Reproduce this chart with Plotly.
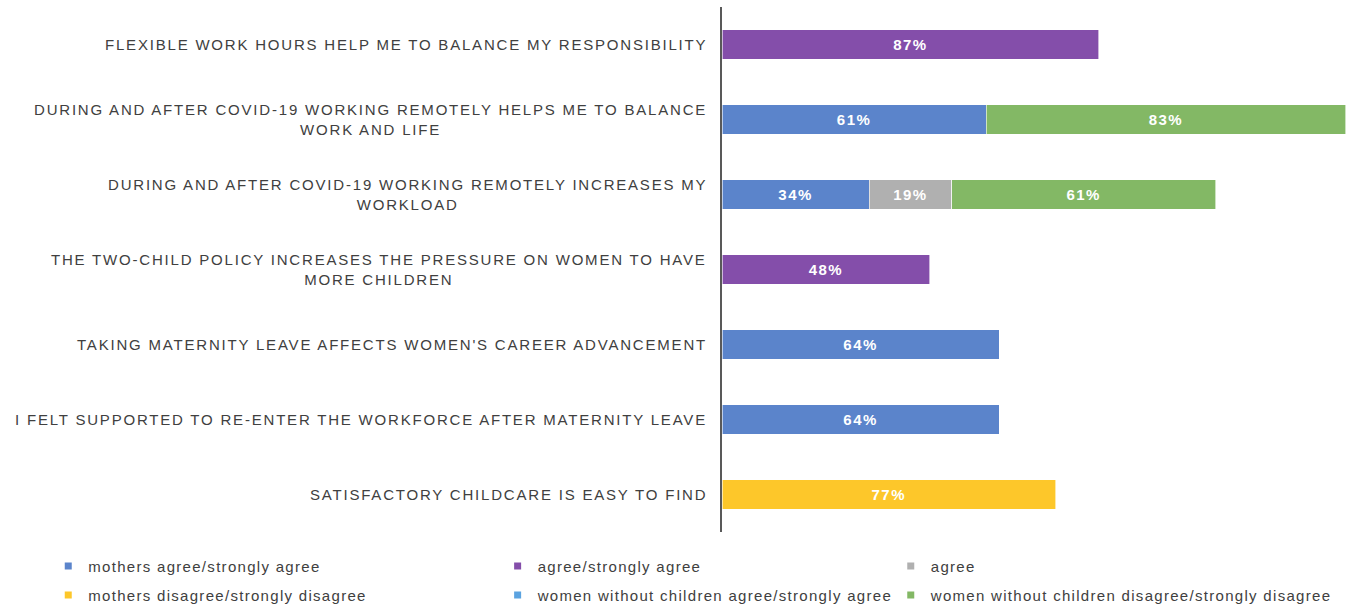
import plotly.graph_objects as go

# Survey statements, top to bottom
statements = [
    "FLEXIBLE WORK HOURS HELP ME TO BALANCE MY RESPONSIBILITY",
    "DURING AND AFTER COVID-19 WORKING REMOTELY HELPS ME TO BALANCE<br>WORK AND LIFE",
    "DURING AND AFTER COVID-19 WORKING REMOTELY INCREASES MY<br>WORKLOAD",
    "THE TWO-CHILD POLICY INCREASES THE PRESSURE ON WOMEN TO HAVE<br>MORE CHILDREN",
    "TAKING MATERNITY LEAVE AFFECTS WOMEN'S CAREER ADVANCEMENT",
    "I FELT SUPPORTED TO RE-ENTER THE WORKFORCE AFTER MATERNITY LEAVE",
    "SATISFACTORY CHILDCARE IS EASY TO FIND",
]

# Percentages per response group (None = not asked)
mothers_agree = [None, 61, 34, None, 64, 64, None]
agree_strongly = [87, None, None, 48, None, None, None]
agree_only = [None, None, 19, None, None, None, None]
mothers_disagree = [None, None, None, None, None, None, 77]
no_children_agree = [None, None, None, None, None, None, None]
no_children_disagree = [None, 83, 61, None, None, None, None]

series_names = [
    "mothers agree/strongly agree",
    "agree/strongly agree",
    "agree",
    "mothers disagree/strongly disagree",
    "women without children agree/strongly agree",
    "women without children disagree/strongly disagree",
]
series_values = [mothers_agree, agree_strongly, agree_only,
                 mothers_disagree, no_children_agree, no_children_disagree]
series_colors = ["#5B84CB", "#844EAA", "#B0B0B0", "#FDC72A", "#5BA3E0", "#83B865"]

ids = [f"s{i}" for i in range(len(statements))]


def spaced(text, px):
    """Wrap text in a span with extra letter spacing."""
    return f'<span style="letter-spacing:{px}px">{text}</span>'


fig = go.Figure()
for name, vals, col in zip(series_names, series_values, series_colors):
    fig.add_trace(go.Bar(
        y=ids, x=vals, orientation="h", name=name,
        marker=dict(color=col, line=dict(color="rgba(255,255,255,0.6)", width=1)),
        text=[spaced(f"{v}%", 1.5) if v is not None else "" for v in vals],
        textposition="inside", insidetextanchor="middle",
        textfont=dict(family="Liberation Sans", size=15, color="white", weight="bold"),
        showlegend=False, cliponaxis=False,
    ))

# Legend entries: small square swatches, each in its own legend box
legend_pos = [(-1.078, 1), (-0.359, 1), (0.270, 1),
              (-1.078, 2), (-0.359, 2), (0.270, 2)]
layout_legends = {}
for i, (name, col) in enumerate(zip(series_names, series_colors)):
    key = "legend" if i == 0 else f"legend{i + 1}"
    fig.add_trace(go.Scatter(
        x=[None], y=[None], mode="markers", name=spaced(name, 1.3),
        marker=dict(symbol="square", size=7, color=col),
        showlegend=True, legend=key, hoverinfo="skip",
    ))
    lx, row = legend_pos[i]
    layout_legends[key] = dict(
        x=lx, xanchor="left", y=-0.034 if row == 1 else -0.089, yanchor="top",
        orientation="h", bgcolor="rgba(0,0,0,0)", itemwidth=30,
        font=dict(family="Liberation Sans", size=15, color="#404040"),
    )

# Statement labels, centred multi-line text right-aligned to the axis
for sid, label in zip(ids, statements):
    fig.add_annotation(
        x=0, xref="paper", y=sid, yref="y", text=spaced(label, 1.8), showarrow=False,
        xanchor="right", xshift=-13, align="center",
        font=dict(family="Liberation Sans", size=15, color="#404040"),
    )

fig.update_layout(
    barmode="stack", bargap=0.61,
    width=1353, height=606,
    margin=dict(l=722, r=6, t=7, b=74, autoexpand=False),
    plot_bgcolor="white", paper_bgcolor="white",
    xaxis=dict(range=[0, 144.3], visible=False, showgrid=False, zeroline=False),
    yaxis=dict(categoryorder="array", categoryarray=ids, autorange="reversed",
               showticklabels=False, showgrid=False, zeroline=False,
               showline=True, linecolor="#595959", linewidth=1.5, ticks=""),
    **layout_legends,
)

fig.write_html("out.html")
